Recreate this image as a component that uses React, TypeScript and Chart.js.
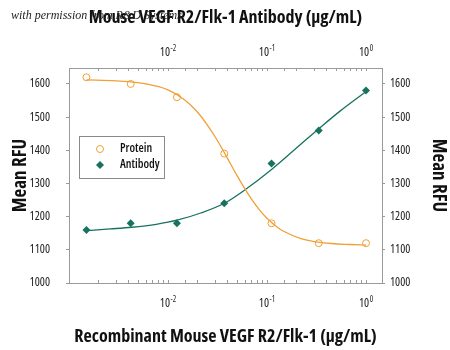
import React, { useEffect, useRef } from "react";
import { Chart, registerables } from "chart.js";

Chart.register(...registerables);

// ---- data ----
const concentrations = [0.0015, 0.0042, 0.0123, 0.037, 0.111, 0.333, 1.0];
const proteinValues = [1620, 1600, 1560, 1390, 1180, 1120, 1120];
const antibodyValues = [1160, 1180, 1180, 1240, 1360, 1460, 1580];

// fitted curves
const proteinFitX = [0.0015, 0.003, 0.006, 0.01, 0.015, 0.02, 0.025, 0.03, 0.035, 0.04, 0.05, 0.06, 0.07, 0.085, 0.1, 0.13, 0.17, 0.22, 0.3, 0.45, 0.7, 1.0];
const proteinFit = [1612, 1609, 1600, 1582, 1550, 1514, 1476, 1440, 1406, 1375, 1323, 1283, 1252, 1218, 1195, 1166, 1147, 1134, 1125, 1119, 1116, 1114];
const antibodyFitX = [0.0015, 0.0026, 0.0043, 0.0076, 0.0126, 0.0214, 0.038, 0.06, 0.112, 0.215, 0.343, 0.546, 1.0];
const antibodyFit = [1158, 1163, 1168, 1177, 1190, 1211, 1242, 1281, 1343, 1416, 1468, 1518, 1577];

const decadeTicks = [0.01, 0.1, 1];
const decadeExponents = ["-2", "-1", "0"];

const seriesNames = ["Protein", "Antibody"];
const bottomTitle = "Recombinant Mouse VEGF R2/Flk-1 (\u03bcg/mL)";
const topTitle = "Mouse VEGF R2/Flk-1 Antibody (\u03bcg/mL)";
const yTitle = "Mean RFU";
const watermark = "with permission from R&D Systems";

const ORANGE = "#F0A035";
const TEAL = "#17725F";
const AXIS = "#9a9a9a";
const FONT = "'Open Sans', 'Roboto', sans-serif";

const pts = (xs: number[], ys: number[]) => xs.map((x, i) => ({ x, y: ys[i] }));

const decadeLabelPlugin = {
  id: "decadeLabels",
  afterDraw(chart: any) {
    const ctx = chart.ctx;
    const area = chart.chartArea;
    ctx.save();
    ctx.fillStyle = "#222";
    ctx.textBaseline = "middle";
    ctx.textAlign = "left";
    ["x", "x2"].forEach((id) => {
      const scale = chart.scales[id];
      const y = id === "x" ? area.bottom + 21 : area.top - 15;
      decadeTicks.forEach((v, i) => {
        const px = scale.getPixelForValue(v);
        ctx.font = `500 condensed 12px ${FONT}`;
        const w1 = ctx.measureText("10").width;
        ctx.font = `500 condensed 8px ${FONT}`;
        const w2 = ctx.measureText(decadeExponents[i]).width;
        const start = px - (w1 + w2 + 0.5) / 2;
        ctx.font = `500 condensed 12px ${FONT}`;
        ctx.fillText("10", start, y);
        ctx.font = `500 condensed 8px ${FONT}`;
        ctx.fillText(decadeExponents[i], start + w1 + 0.5, y - 4);
      });
    });
    ctx.restore();
  },
};

const legendPlugin = {
  id: "insideLegend",
  afterDatasetsDraw(chart: any) {
    const ctx = chart.ctx;
    const area = chart.chartArea;
    const left = area.left + 10;
    const top = area.top + 68;
    const w = 85;
    const h = 42;
    ctx.save();
    ctx.fillStyle = "#fff";
    ctx.fillRect(left, top, w, h);
    ctx.strokeStyle = "#8a8a8a";
    ctx.lineWidth = 1;
    ctx.strokeRect(left + 0.5, top + 0.5, w, h);
    const rows = [top + 13, top + 29];
    const mx = left + 21;
    ctx.beginPath();
    ctx.arc(mx, rows[0], 3.5, 0, Math.PI * 2);
    ctx.strokeStyle = ORANGE;
    ctx.lineWidth = 1;
    ctx.stroke();
    ctx.beginPath();
    const r = 4;
    ctx.moveTo(mx, rows[1] - r);
    ctx.lineTo(mx + r, rows[1]);
    ctx.lineTo(mx, rows[1] + r);
    ctx.lineTo(mx - r, rows[1]);
    ctx.closePath();
    ctx.fillStyle = TEAL;
    ctx.fill();
    ctx.fillStyle = "#111";
    ctx.font = `600 condensed 12px ${FONT}`;
    ctx.textBaseline = "middle";
    ctx.textAlign = "left";
    ctx.fillText(seriesNames[0], left + 41, rows[0]);
    ctx.fillText(seriesNames[1], left + 41, rows[1]);
    ctx.restore();
  },
};

const watermarkPlugin = {
  id: "watermark",
  afterDraw(chart: any) {
    const ctx = chart.ctx;
    ctx.save();
    ctx.font = "italic 12px 'Liberation Serif', 'DejaVu Serif', serif";
    ctx.fillStyle = "#222";
    ctx.textBaseline = "alphabetic";
    ctx.textAlign = "left";
    ctx.fillText(watermark, 11, 19);
    ctx.restore();
  },
};

const keepHundreds = (s: any) => {
  s.ticks = s.ticks.filter((t: any) => Math.abs(t.value % 100) < 1e-6);
};

export default function App() {
  const ref = useRef<HTMLCanvasElement | null>(null);

  useEffect(() => {
    if (!ref.current) return;
    const xCommon = {
      type: "logarithmic" as const,
      min: 0.001,
      max: 1.45,
      border: { color: AXIS, width: 1 },
      grid: { drawOnChartArea: false, tickLength: -3, color: AXIS, lineWidth: 1 },
      ticks: { display: false, autoSkip: false },
    };
    const yTicks = (pad: number) => ({
      stepSize: 100,
      color: "#222",
      padding: pad,
      font: { family: FONT, size: 12, weight: "500 condensed" },
      callback: (v: any) => String(v),
    });
    const yCommon = {
      type: "linear" as const,
      min: 1000,
      max: 1648,
      border: { color: AXIS, width: 1 },
      grid: { drawOnChartArea: false, tickLength: 3, color: AXIS, lineWidth: 1 },
      afterBuildTicks: keepHundreds,
    };
    const titleFont = { family: FONT, size: 18, weight: "700 condensed" };
    const yTitleFont = { family: FONT, size: 19, weight: "700 condensed" };
    const chart = new Chart(ref.current, {
      type: "scatter",
      data: {
        datasets: [
          {
            label: seriesNames[0] + " fit",
            data: pts(proteinFitX, proteinFit),
            showLine: true,
            borderColor: ORANGE,
            borderWidth: 1.3,
            pointRadius: 0,
            cubicInterpolationMode: "monotone",
            xAxisID: "x",
            yAxisID: "y",
          },
          {
            label: seriesNames[1] + " fit",
            data: pts(antibodyFitX, antibodyFit),
            showLine: true,
            borderColor: TEAL,
            borderWidth: 1.3,
            pointRadius: 0,
            cubicInterpolationMode: "monotone",
            xAxisID: "x",
            yAxisID: "y",
          },
          {
            label: seriesNames[0],
            data: pts(concentrations, proteinValues),
            showLine: false,
            pointStyle: "circle",
            pointRadius: 3.5,
            borderColor: ORANGE,
            borderWidth: 1,
            backgroundColor: "rgba(255,255,255,0)",
            xAxisID: "x",
            yAxisID: "y",
          },
          {
            label: seriesNames[1],
            data: pts(concentrations, antibodyValues),
            showLine: false,
            pointStyle: "rectRot",
            pointRadius: 4,
            borderWidth: 0,
            borderColor: TEAL,
            backgroundColor: TEAL,
            xAxisID: "x",
            yAxisID: "y",
          },
        ],
      },
      options: {
        animation: false,
        responsive: false,
        devicePixelRatio: 1,
        layout: { padding: 0 },
        plugins: { legend: { display: false }, tooltip: { enabled: false } },
        scales: {
          x: {
            ...xCommon,
            position: "bottom",
            title: {
              display: true,
              text: bottomTitle,
              color: "#111",
              font: titleFont,
              padding: { top: 0, bottom: 2 },
            },
            afterFit: (s: any) => {
              s.height = 67;
            },
          },
          x2: {
            ...xCommon,
            position: "top",
            title: {
              display: true,
              text: topTitle,
              color: "#111",
              font: titleFont,
              padding: { top: 7, bottom: 0 },
            },
            afterFit: (s: any) => {
              s.height = 68;
            },
          },
          y: {
            ...yCommon,
            position: "left",
            ticks: yTicks(16),
            title: {
              display: true,
              text: yTitle,
              color: "#111",
              font: yTitleFont,
              padding: { top: 9, bottom: 0 },
            },
            afterFit: (s: any) => {
              s.width = 69;
            },
          },
          y2: {
            ...yCommon,
            position: "right",
            ticks: yTicks(5),
            title: {
              display: true,
              text: yTitle,
              color: "#111",
              font: yTitleFont,
              padding: { top: 0, bottom: 0 },
            },
            afterFit: (s: any) => {
              s.width = 68;
            },
          },
        },
      } as any,
      plugins: [decadeLabelPlugin, legendPlugin, watermarkPlugin],
    });
    return () => chart.destroy();
  }, []);

  return (
    <div style={{ position: "fixed", left: 0, top: 0, width: 450, height: 350, background: "#fff" }}>
      <canvas ref={ref} width={450} height={350} style={{ display: "block", width: 450, height: 350 }} />
    </div>
  );
}
